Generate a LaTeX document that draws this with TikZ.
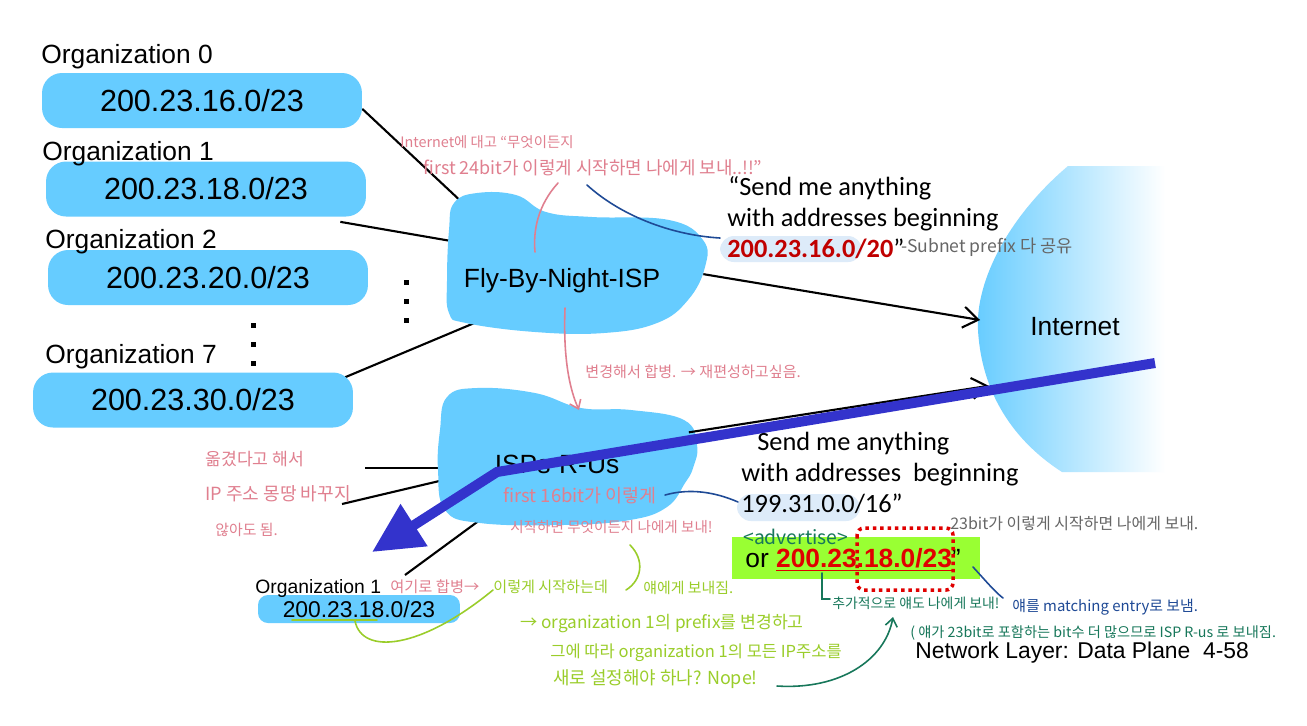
\documentclass[tikz,border=0pt]{standalone}
\usepackage{fontspec}
\setmainfont{Liberation Sans}
\newfontfamily\calibrifont{Carlito}
\newfontfamily\handfont{Noto Sans CJK KR}
\usetikzlibrary{arrows.meta,shapes.geometric,backgrounds}
\definecolor{sky}{HTML}{66CCFF}
\definecolor{penblue}{HTML}{3333CC}
\definecolor{prefixred}{HTML}{C00000}
\definecolor{advred}{HTML}{E00000}
\definecolor{lime}{HTML}{99FF33}
\definecolor{hilite}{HTML}{DDEBF9}
\definecolor{notepink}{HTML}{E07F8F}
\definecolor{notegray}{HTML}{666666}
\definecolor{notegreen}{HTML}{17775A}
\definecolor{notelime}{HTML}{9ACD2A}
\definecolor{noteblue}{HTML}{1F4A96}

\begin{document}
\begin{tikzpicture}[x=0.02cm, y=-0.02cm,
    orglabel/.style={inner sep=0pt, anchor=base west,
                     font=\fontsize{15pt}{18pt}\selectfont},
    orgblob/.style={rectangle, fill=sky, rounded corners=0.4cm,
                    minimum width=6.4cm, minimum height=1.1cm, inner sep=0pt,
                    font=\fontsize{17.4pt}{20pt}\selectfont},
    ispname/.style={inner sep=0pt, anchor=base,
                    font=\fontsize{15pt}{18pt}\selectfont},
    zone/.style={ellipse, inner sep=0pt, outer sep=0pt},
    sendtext/.style={inner sep=0pt, anchor=base west,
                     font=\calibrifont\fontsize{15pt}{18pt}\selectfont},
    scribble/.style={inner sep=0pt, anchor=base west,
                     font=\handfont\fontsize{#1}{#1}\selectfont},
    scribble/.default=9pt,
    link/.style={line width=1.2pt},
    barbtip/.style={-{Straight Barb[length=0.3cm,width=0.42cm]}},
    pen/.style={line width=0.9pt, line cap=round},
]
\useasboundingbox (0,0) rectangle (1307,725);
\begin{pgfonlayer}{background}
\fill[white] (0,0) rectangle (1307,725);
\end{pgfonlayer}

% internet cloud
\shade[left color=sky, right color=white] (1068,166) .. controls (1010,215) and (975,280) .. (978,330)
    .. controls (982,400) and (1020,445) .. (1062,472) -- (1165,472) -- (1165,166) -- cycle;
\node[zone, minimum width=3.72cm, minimum height=6.2cm] (inet) at (1073,320) {};
\node[ispname] (inetlabel) at (1075,335) {Internet};

% organizations
\node[orgblob] (org0) at (202,100.5) {200.23.16.0/23};
\node[orgblob] (org1) at (206,189) {200.23.18.0/23};
\node[orgblob] (org2) at (208,277.5) {200.23.20.0/23};
\node[orgblob] (org7) at (193,400) {200.23.30.0/23};
\node[orglabel] (lab0) at (41,63) {Organization 0};
\node[orglabel] (lab1) at (42,160) {Organization 1};
\node[orglabel] (lab2) at (45,248) {Organization 2};
\node[orglabel] (lab7) at (45,363) {Organization 7};

\foreach \y in {325,344,363} \fill (250.5,\y-2.5) rectangle +(5,5);
\foreach \y in {282,301,320} \fill (403.5,\y-2.5) rectangle +(5,5);

% ISPs
\fill[sky] plot[smooth cycle, tension=0.7] coordinates {(454,203) (477,193) (516,195) (546,212)
    (592,217) (669,220) (703,240) (705,267) (688,300) (657,323) (604,333) (535,332) (466,323)
    (449,313) (447,280) (449,230)};
\node[zone, minimum width=5.16cm, minimum height=2.8cm] (fly) at (576,263) {};
\node[ispname] (flylabel) at (562,287) {Fly-By-Night-ISP};

\fill[sky] plot[smooth cycle, tension=0.7] coordinates {(447,397) (477,388) (535,393) (581,408)
    (631,410) (684,420) (697,445) (693,468) (685,483) (667,507) (630,520) (563,525) (480,523)
    (445,510) (438,470) (440,430)};
\node[zone, minimum width=5.2cm, minimum height=2.8cm] (isps) at (568,458) {};
\node[ispname] (ispslabel) at (557,473) {ISPs-R-Us};

\node[orgblob, minimum width=4.04cm, minimum height=0.56cm, rounded corners=0.2cm,
      font=\fontsize{13pt}{15pt}\selectfont] (sorg) at (359,609) {200.23.18.0/23};
\node[orglabel, font=\fontsize{11pt}{13pt}\selectfont] (slab) at (255,593) {Organization 1};

\coordinate (cA) at (365,468);
\coordinate (cB) at (342,504);
\coordinate (cC) at (405,575);
\begin{pgfonlayer}{background}
\draw[link] (org0.-3) -- (fly.155);
\draw[link] ([shift={(-26,5)}]org1.south east) -- (fly.170);
\draw[link] ([shift={(-8,5)}]org7.north east) -- (fly.212);
\draw[link] (cA) -- (cA -| isps.west);
\draw[link] (cB) -- (isps.190);
\draw[link] (isps.215) -- (cC);
\end{pgfonlayer}

% advertisements
\fill[hilite, rounded corners=8pt] (720,236) rectangle (862,262);
\node[sendtext] (send1) at (728,195) {“Send me anything};
\node[sendtext] (send2) at (727,226) {with addresses beginning};
\node[sendtext] (send3) at (727,257) {\textcolor{prefixred}{\bfseries 200.23.16.0/20}”};

\fill[hilite, rounded corners=8pt] (737,494) rectangle (860,521);
\node[sendtext] (send4) at (757,450) {Send me anything};
\node[sendtext] (send5) at (741,481) {with addresses\ \ beginning};
\node[sendtext] (send6) at (741,512) {199.31.0.0/16”};

\fill[lime] (732,537) rectangle (980,579);
\node[orglabel] (adv) at (745,567) {or \textcolor{advred}{\bfseries\underline{200.23.18.0/23}}”};
\draw[advred, line width=2pt, dash pattern=on 2pt off 2.2pt, rounded corners=4pt]
    (857,528) rectangle (953,590);

\draw[link, barbtip] (fly.-5) -- (inet.west);
\draw[link, barbtip] (isps.12) -- (inet.218);

\node[orglabel, font=\fontsize{13pt}{15pt}\selectfont] (footer) at (915,658) {Network Layer: Data Plane\ \ 4-58};

% pen arrow
\coordinate (pen0) at (1155,363);
\coordinate (pen1) at (497,472);
\coordinate (pen2) at (372,552);
\draw[penblue, line width=0.2cm, -{Triangle[length=1cm,width=0.95cm]}] (pen0) -- (pen1) -- (pen2);

% notes
\node[scribble=8.2pt, text=notepink] (n1) at (400,147) {Internet에 대고 “무엇이든지};
\node[scribble=10.2pt, text=notepink] (n2) at (423,174) {first 24bit가 이렇게 시작하면 나에게 보내..!!”};
\draw[pen, notepink] (558,183) .. controls (538,205) and (533,230) .. (535,252);
\draw[pen, noteblue] (587,185) .. controls (620,215) and (670,235) .. (720,238);
\node[scribble=10pt, text=notegray] (n3) at (901,252) {-Subnet prefix 다 공유};

\draw[pen, notepink, -{Straight Barb[length=0.16cm,width=0.24cm]}] (565,308) .. controls (563,360) and (570,390) .. (579,410);
\node[scribble=8.6pt, text=notepink] (n4) at (585,377) {변경해서 합병. → 재편성하고싶음.};

\node[scribble=9.8pt, text=notepink] (n5) at (205,465) {옮겼다고 해서};
\node[scribble=10.3pt, text=notepink] (n6) at (205,500) {IP 주소 몽땅 바꾸지};
\node[scribble=8.5pt, text=notepink] (n7) at (215,535) {않아도 됨.};

\node[scribble=10.5pt, text=notepink] (n8) at (503,502) {first 16bit가 이렇게};
\node[scribble=8.3pt, text=notepink] (n9) at (510,532) {시작하면 무엇이든지 나에게 보내!};
\draw[pen, noteblue] (665,495) .. controls (690,488) and (715,492) .. (738,502);

\node[scribble=9.1pt, text=notegray] (n10) at (950,529) {23bit가 이렇게 시작하면 나에게 보내.};
\node[scribble=11pt, text=notegreen] (n11) at (743,544) {<advertise>};
\draw[pen, notegreen] (822,573) -- (822,599) -- (830,599);
\node[scribble=7.9pt, text=notegreen] (n12) at (832,608) {추가적으로 얘도 나에게 보내!};
\draw[pen, noteblue] (973,567) .. controls (985,580) and (995,592) .. (1003,598);
\node[scribble=8.5pt, text=noteblue] (n13) at (1012,611) {얘를 matching entry로 보냄.};
\draw[pen, notegreen, -{Straight Barb[length=0.16cm,width=0.24cm]}] (777,686) .. controls (840,690) and (885,660) .. (893,617);
\node[scribble=8.1pt, text=notegreen] (n14) at (910,637) {( 얘가 23bit로 포함하는 bit수 더 많으므로 ISP R-us 로 보내짐.};

\node[scribble=8.7pt, text=notepink] (n15) at (390,592) {여기로 합병→};
\node[scribble=8.6pt, text=notelime] (n16) at (493,592) {이렇게 시작하는데};
\node[scribble=8.5pt, text=notelime] (n17) at (643,593) {얘에게 보내짐.};
\draw[pen, notelime] (630,545) .. controls (645,560) and (642,580) .. (626,590);
\draw[pen, notelime] (292,620) -- (377,620);
\draw[pen, notelime] (355,621) .. controls (362,655) and (420,650) .. (493,590);
\node[scribble=9.8pt, text=notelime] (n18) at (520,628) {→ organization 1의 prefix를 변경하고};
\node[scribble=9.4pt, text=notelime] (n19) at (550,657) {그에 따라 organization 1의 모든 IP주소를};
\node[scribble=10.2pt, text=notelime] (n20) at (553,684) {새로 설정해야 하나? Nope!};
\end{tikzpicture}
\end{document}
